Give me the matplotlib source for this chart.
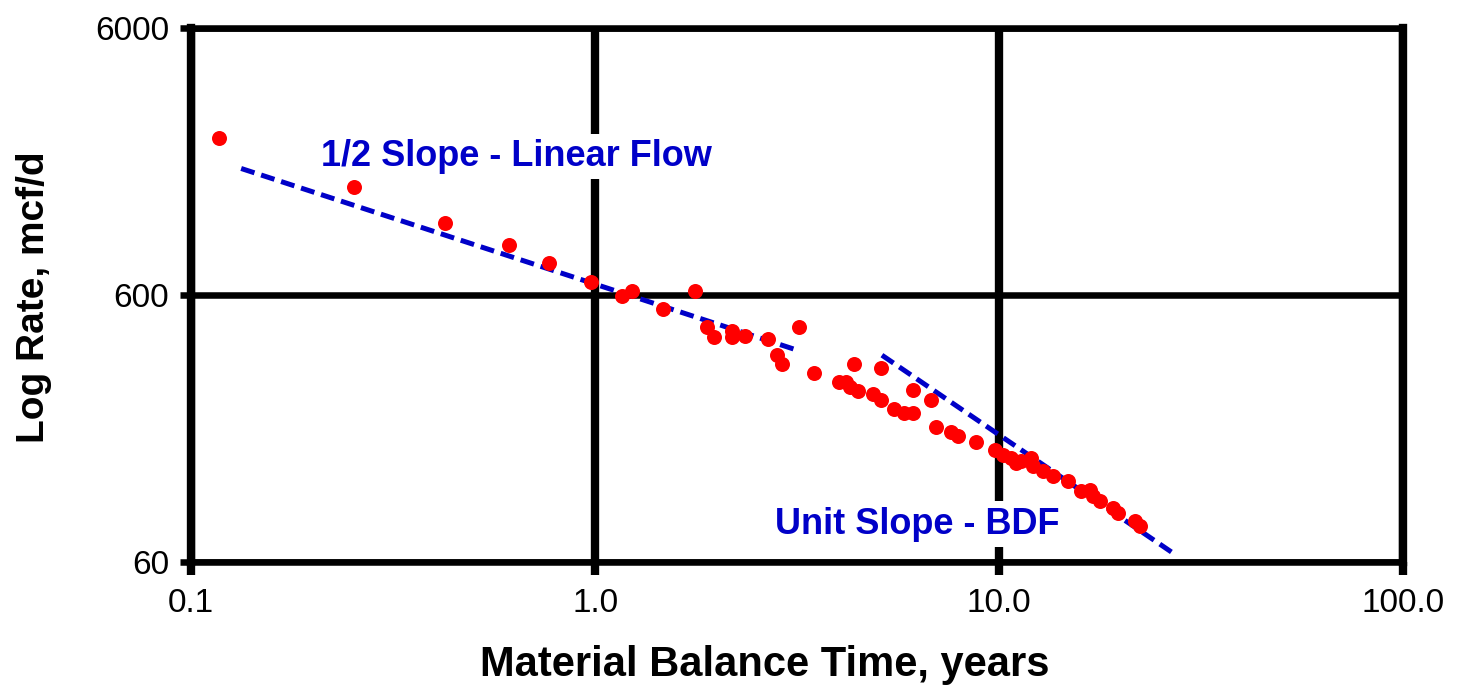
import numpy as np
import matplotlib
matplotlib.use("Agg")
import matplotlib.pyplot as plt

plt.rcParams['font.family'] = ['Liberation Sans', 'DejaVu Sans']

# material balance time (years) and rate (mcf/d)
mb_time = [0.117, 0.253, 0.426, 0.613, 0.771, 0.975, 1.163, 1.237, 1.473, 1.768,
           1.898, 1.965, 2.177, 2.177, 2.349, 2.673, 2.819, 2.896, 3.203, 3.477,
           4.025, 4.182, 4.285, 4.486, 4.370, 4.869, 5.105, 5.105, 5.509, 5.813,
           6.118, 6.118, 6.795, 6.99, 7.586, 7.911, 8.786, 9.752, 10.23, 10.73,
           11.04, 11.36, 12.03, 12.14, 12.86, 13.61, 14.84, 16.00, 16.78, 17.11,
           17.77, 19.18, 19.73, 21.69, 22.33]
rate = [2330, 1525, 1112, 919.5, 789.6, 673.2, 596.5, 622.9, 531.6, 619.6,
        453.8, 418.2, 440.6, 416.1, 419.7, 410.1, 357.9, 330.2, 453.8, 307.3,
        284.3, 284.3, 271.3, 262.1, 332.2, 254.7, 242.4, 319.8, 223.7, 216.1,
        216.1, 263.7, 242.4, 191.9, 184.4, 177.6, 168.9, 158.2, 151.5, 147.2,
        141.0, 143.0, 147.2, 136.9, 131.1, 125.6, 120.3, 110.3, 111.9, 105.6,
        101.1, 95.5, 91.9, 85.1, 81.5]

# straight-line fits (end points)
half_slope_t = [0.133, 3.11]
half_slope_q = [1786, 376]
unit_slope_t = [5.13, 26.8]
unit_slope_q = [357, 65.2]

x_ticks = [0.1, 1.0, 10.0, 100.0]
x_labels = ["0.1", "1.0", "10.0", "100.0"]
y_ticks = [60, 600, 6000]
y_labels = ["60", "600", "6000"]

blue = "#0000c8"

fig = plt.figure(figsize=(14.59, 6.90), dpi=100)
ax = fig.add_axes([0.131, 0.1855, 0.8306, 0.774])

ax.set_xscale("log")
ax.set_yscale("log")
ax.set_xlim(0.1, 100)
ax.set_ylim(60, 6000)

dash = (0, (2.8, 1.4))
ax.plot(half_slope_t, half_slope_q, color=blue, lw=3.6, linestyle=dash, zorder=3)
ax.plot(unit_slope_t, unit_slope_q, color=blue, lw=3.6, linestyle=dash, zorder=3)
ax.plot(mb_time, rate, "o", color="#ff0000", markersize=10.8, markeredgewidth=0, zorder=4)

ax.set_xticks(x_ticks)
ax.set_xticklabels(x_labels)
ax.set_yticks(y_ticks)
ax.set_yticklabels(y_labels)
ax.minorticks_off()
ax.tick_params(axis="x", direction="out", length=9, width=6, labelsize=24, pad=10)
ax.tick_params(axis="y", direction="out", length=8, width=4.7, labelsize=24, pad=8)

# vertical lines look heavier than horizontal ones in the original
ax.xaxis.grid(True, color="black", linewidth=6)
ax.yaxis.grid(True, color="black", linewidth=4.7)
ax.spines["left"].set_linewidth(6)
ax.spines["right"].set_linewidth(6)
ax.spines["top"].set_linewidth(4.7)
ax.spines["bottom"].set_linewidth(4.7)

ax.set_xlabel("Material Balance Time, years", fontsize=30, fontweight="bold", va="center")
ax.set_ylabel("Log Rate, mcf/d", fontsize=28, fontweight="bold", va="center")
ax.xaxis.set_label_coords(0.473, -0.1925)
ax.yaxis.set_label_coords(-0.130, 0.495)

# labels sit on a white box that hides the grid behind them
box = dict(facecolor="white", edgecolor="none", pad=4)
ax.text(0.638, 1980, "1/2 Slope - Linear Flow", color=blue, fontsize=26,
        fontweight="bold", ha="center", va="center", bbox=box, zorder=5)
ax.text(6.27, 83, "Unit Slope - BDF", color=blue, fontsize=26,
        fontweight="bold", ha="center", va="center", bbox=box, zorder=5)

fig.savefig("out.png", dpi=100)
